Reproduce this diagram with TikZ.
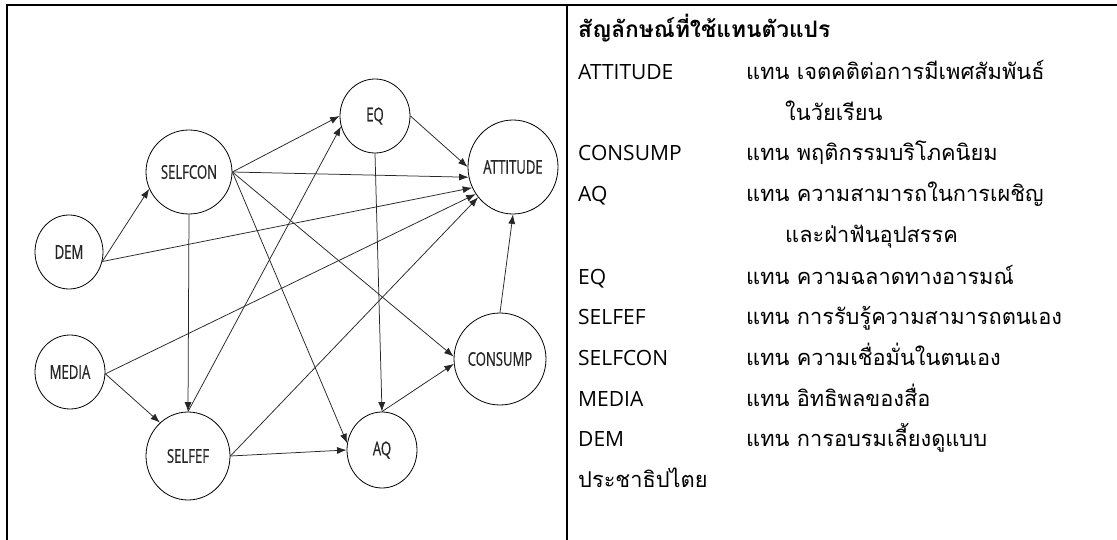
\documentclass[tikz,border=0pt]{standalone}
\usepackage{fontspec}
\usetikzlibrary{arrows.meta,shapes.geometric}
\newfontfamily\thaifont[Script=Thai]{Loma}
\newfontfamily\latfont{Open Sans}
\newfontfamily\diagfont{Open Sans}[FakeStretch=0.69,FakeBold=0.6]
\begin{document}
\begin{tikzpicture}[x=1pt,y=-1pt,
  var/.style={ellipse, draw, line width=0.8pt, inner sep=0pt, text=black!85,
    font=\diagfont\fontsize{19}{19}\selectfont},
  arr/.style={-{Latex[length=9.5pt,width=7pt]}, line width=0.75pt, draw=black!85},
  frame/.style={line width=2pt},
  lab/.style={anchor=base west, inner sep=0pt, font=\latfont\fontsize{21}{24}\selectfont},
  txt/.style={anchor=base west, inner sep=0pt, font=\thaifont\fontsize{21.8}{24}\selectfont},
  ttl/.style={anchor=base west, inner sep=0pt, font=\thaifont\bfseries\fontsize{22.7}{24}\selectfont}]
\fill[white] (0,0) rectangle (1117,540);
\useasboundingbox (0,0) rectangle (1117,540);
% frame
\draw[frame] (6.5,5) -- (1117,5);
\draw[frame] (6.5,4) -- (6.5,540);
\draw[frame] (567,4) -- (567,540);
% variables
\node[var, minimum width=68pt, minimum height=74pt] (dem) at (69,252) {DEM};
\node[var, minimum width=70pt, minimum height=74pt] (media) at (70,372) {MEDIA};
\node[var, minimum width=86pt, minimum height=84pt] (selfcon) at (189,172) {SELFCON};
\node[var, minimum width=84pt, minimum height=88pt] (selfef) at (188,456) {SELFEF};
\node[var, minimum width=70pt, minimum height=74pt] (eq) at (375,116) {EQ};
\node[var, minimum width=90pt, minimum height=94pt] (att) at (513,167) {ATTITUDE};
\node[var, minimum width=92pt, minimum height=92pt] (consump) at (500,359) {CONSUMP};
\node[var, minimum width=70pt, minimum height=76pt] (aq) at (382,450) {AQ};
% paths
\draw[arr] (dem.344) -- (selfcon.203);
\draw[arr] (dem.344) -- (att.207);
\draw[arr] (media.357) -- (att.216);
\draw[arr] (media.357) -- (selfef.130);
\draw[arr] (selfcon.east) -- (eq.west);
\draw[arr] (selfcon.east) -- (att.193);
\draw[arr] (selfcon.east) -- (consump.177);
\draw[arr] (selfcon.east) -- (aq.169);
\draw[arr] (selfcon.south) -- (selfef.north);
\draw[arr] (eq.east) -- (att.180);
\draw[arr] (eq.south) -- (aq.north);
\draw[arr] (selfef.north) -- (eq.197);
\draw[arr] (selfef.east) -- (att.221);
\draw[arr] (selfef.east) -- (aq.180);
\draw[arr] (aq.north) -- (consump.186);
\draw[arr] (consump.north) -- (att.south);
% legend
\node[ttl] (title) at (578,38) {สัญลักษณ์ที่ใช้แทนตัวแปร};
\node[lab] (l1) at (578,80) {ATTITUDE};
\node[txt] (t1) at (746,80) {แทน เจตคติต่อการมีเพศสัมพันธ์};
\node[txt] (t1b) at (785,121) {ในวัยเรียน};
\node[lab] (l2) at (578,161) {CONSUMP};
\node[txt] (t2) at (746,161) {แทน พฤติกรรมบริโภคนิยม};
\node[lab] (l3) at (578,202) {AQ};
\node[txt] (t3) at (746,202) {แทน ความสามารถในการเผชิญ};
\node[txt] (t3b) at (785,243) {และฝ่าฟันอุปสรรค};
\node[lab] (l4) at (578,284) {EQ};
\node[txt] (t4) at (746,284) {แทน ความฉลาดทางอารมณ์};
\node[lab] (l5) at (578,324) {SELFEF};
\node[txt] (t5) at (746,324) {แทน การรับรู้ความสามารถตนเอง};
\node[lab] (l6) at (578,365) {SELFCON};
\node[txt] (t6) at (746,365) {แทน ความเชื่อมั่นในตนเอง};
\node[lab] (l7) at (578,406) {MEDIA};
\node[txt] (t7) at (746,406) {แทน อิทธิพลของสื่อ};
\node[lab] (l8) at (578,446) {DEM};
\node[txt] (t8) at (746,446) {แทน การอบรมเลี้ยงดูแบบ};
\node[txt] (t8b) at (578,487) {ประชาธิปไตย};
\end{tikzpicture}
\end{document}
